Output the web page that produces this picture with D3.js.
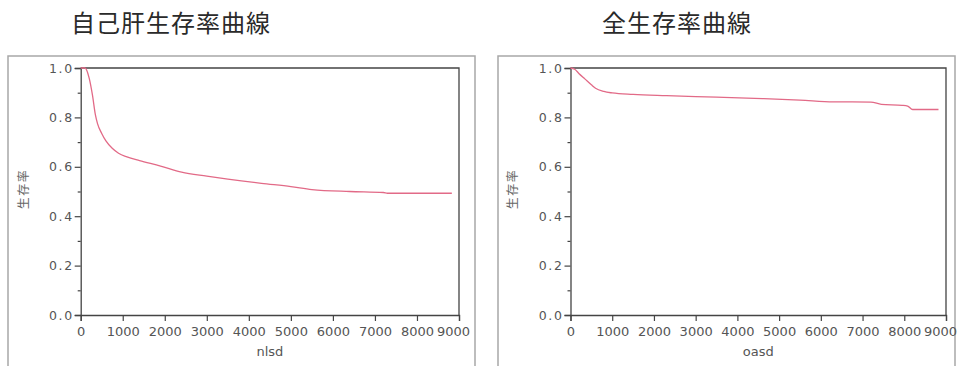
<!DOCTYPE html>
<html>
<head>
<meta charset="utf-8">
<script src="https://cdn.jsdelivr.net/npm/d3@7"></script>
<style>
  html, body { margin: 0; padding: 0; background: #fff; }
  svg { display: block; }
</style>
</head>
<body>
<svg id="chart" width="959" height="366"></svg>
<script>
// ---- data ----
const titles = ["自己肝生存率曲線", "全生存率曲線"];
const xLabels = ["nlsd", "oasd"];
const yLabel = "生存率";
const xTicks = [0, 1000, 2000, 3000, 4000, 5000, 6000, 7000, 8000, 9000];
const yTicks = [0.0, 0.2, 0.4, 0.6, 0.8, 1.0];
const yMinorTicks = [0.1, 0.3, 0.5, 0.7, 0.9];

const nlsdTime = [0, 100, 200, 280, 350, 400, 500, 600, 750, 900, 1100, 1400, 1900, 2400, 3000, 3500, 4300, 5000, 5500, 6400, 7200, 7300, 8830];
const nlsdSurv = [1.0, 1.0, 0.96, 0.89, 0.81, 0.775, 0.735, 0.705, 0.675, 0.655, 0.64, 0.625, 0.603, 0.578, 0.562, 0.55, 0.533, 0.52, 0.508, 0.5, 0.496, 0.493, 0.493];

const oasdTime = [0, 100, 200, 350, 500, 600, 800, 1000, 1500, 2300, 3500, 4600, 5500, 6300, 7200, 7450, 7950, 8080, 8200, 8820];
const oasdSurv = [1.0, 0.995, 0.978, 0.955, 0.932, 0.918, 0.905, 0.899, 0.893, 0.888, 0.882, 0.876, 0.87, 0.863, 0.862, 0.853, 0.849, 0.846, 0.832, 0.832];

// ---- layout ----
const svg = d3.select("#chart");
const panels = [
  { title: titles[0], titleX: 71, xlab: xLabels[0], box: [8, 475], plot: [80.7, 459], time: nlsdTime, surv: nlsdSurv, ylabX: 24 },
  { title: titles[1], titleX: 602, xlab: xLabels[1], box: [498, 955], plot: [570.5, 946], time: oasdTime, surv: oasdSurv, ylabX: 513 }
];
const plotTop = 68, plotBottom = 315;
const axisFont = "'DejaVu Sans', 'Liberation Sans', sans-serif";
const cjkFont = "'Noto Sans CJK JP', 'Noto Sans CJK SC', sans-serif";

panels.forEach(p => {
  const g = svg.append("g");

  // outer panel frame
  g.append("path")
    .attr("d", `M${p.box[0]},370 V56 H${p.box[1]} V370`)
    .attr("fill", "none").attr("stroke", "#a8a8a8").attr("stroke-width", 1.5);

  // title
  g.append("text")
    .attr("x", p.titleX).attr("y", 32)
    .attr("font-family", cjkFont).attr("font-size", 24)
    .attr("letter-spacing", 1)
    .attr("fill", "#2a2a2a")
    .text(p.title);

  const x = d3.scaleLinear().domain([0, 9000]).range(p.plot);
  const y = d3.scaleLinear().domain([0, 1]).range([plotBottom, plotTop]);

  // plot frame top and right
  g.append("path")
    .attr("d", `M${p.plot[0]},${plotTop} H${p.plot[1]} V${plotBottom}`)
    .attr("fill", "none").attr("stroke", "#444").attr("stroke-width", 1.3);

  // x axis
  const xa = g.append("g").attr("transform", `translate(0,${plotBottom})`)
    .call(d3.axisBottom(x).tickValues(xTicks).tickFormat(d3.format("d")).tickSize(6).tickPadding(6));
  xa.select(".domain").attr("stroke", "#444").attr("stroke-width", 1.3);
  xa.selectAll(".tick line").attr("stroke", "#444").attr("stroke-width", 1.2);
  xa.selectAll("text").attr("font-family", axisFont).attr("font-size", 13).attr("fill", "#555");
  // last label nudged left to stay inside the panel, as in the original
  xa.selectAll(".tick").filter(d => d === 9000).select("text").attr("dx", -6);

  // y axis minor
  const ym = g.append("g").attr("transform", `translate(${p.plot[0]},0)`)
    .call(d3.axisLeft(y).tickValues(yMinorTicks).tickFormat("").tickSize(3));
  ym.select(".domain").remove();
  ym.selectAll(".tick line").attr("stroke", "#444").attr("stroke-width", 1.2);

  // y axis
  const ya = g.append("g").attr("transform", `translate(${p.plot[0]},0)`)
    .call(d3.axisLeft(y).tickValues(yTicks).tickFormat(d3.format(".1f")).tickSize(6).tickPadding(1));
  ya.select(".domain").attr("stroke", "#444").attr("stroke-width", 1.3);
  ya.selectAll(".tick line").attr("stroke", "#444").attr("stroke-width", 1.2);
  ya.selectAll("text").attr("font-family", axisFont).attr("font-size", 12.5)
    .attr("letter-spacing", 1.6).attr("fill", "#555");

  // x label
  g.append("text")
    .attr("x", (p.plot[0] + p.plot[1]) / 2).attr("y", 356)
    .attr("text-anchor", "middle")
    .attr("font-family", axisFont).attr("font-size", 13).attr("fill", "#555")
    .text(p.xlab);

  // y label
  g.append("text")
    .attr("transform", `translate(${p.ylabX + 4},189) rotate(-90)`)
    .attr("text-anchor", "middle")
    .attr("font-family", cjkFont).attr("font-size", 12).attr("letter-spacing", 1.5)
    .attr("fill", "#666")
    .text(yLabel);

  // survival curve
  const pts = p.time.map((t, i) => [t, p.surv[i]]);
  g.append("path")
    .datum(pts)
    .attr("d", d3.line().x(d => x(d[0])).y(d => y(d[1])).curve(d3.curveMonotoneX))
    .attr("fill", "none").attr("stroke", "#e26a87").attr("stroke-width", 1.3);
});
</script>
</body>
</html>
